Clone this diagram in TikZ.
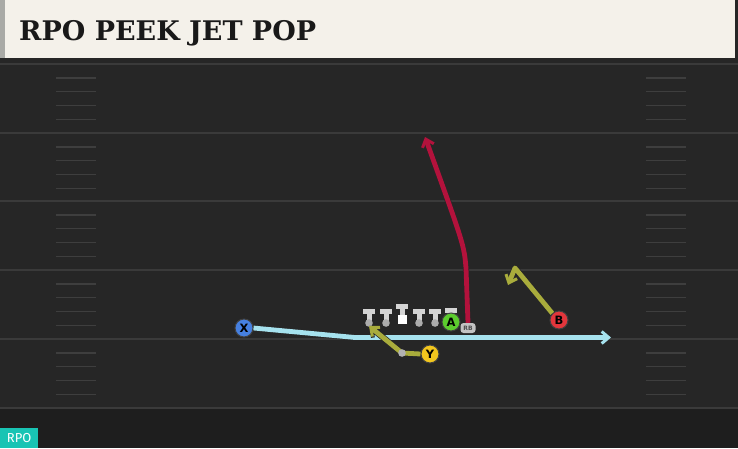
\documentclass[tikz,border=0pt]{standalone}
\usepackage{fontspec}
\setmainfont{DejaVu Sans}
\newfontfamily\titlefont{DejaVu Serif}
\newfontfamily\badgefont{Fira Sans}
\usetikzlibrary{arrows.meta}
\definecolor{fieldbg}{HTML}{262626}
\definecolor{fieldlow}{HTML}{1E1E1E}
\definecolor{yardline}{HTML}{3A3A3A}
\definecolor{hashc}{HTML}{3E3E3E}
\definecolor{headbg}{HTML}{F4F1EA}
\definecolor{headedge}{HTML}{A9AAA6}
\definecolor{teal}{HTML}{19C4B4}
\definecolor{motion}{HTML}{A6E2EE}
\definecolor{olive}{HTML}{A9AC3C}
\definecolor{crimson}{HTML}{B3123C}
\definecolor{xblue}{HTML}{4680E0}
\definecolor{ygold}{HTML}{F2C61E}
\definecolor{bred}{HTML}{E2363C}
\definecolor{agreen}{HTML}{5CCB2E}
\definecolor{linegray}{HTML}{D4D4D4}
\tikzset{
  x=1pt, y=-1pt,
  player/.style={circle, draw=black!75, line width=1pt, minimum size=18pt, inner sep=0pt, font=\bfseries\fontsize{11.5}{11.5}\selectfont, text=black},
  route/.style={line width=4.8pt, line join=round,
    preaction={draw=black!85, line width=6.2pt, -{Straight Barb[length=7.5pt,width=13pt,line width=3.8pt]}}},
  tip/.style={-{Straight Barb[length=7pt,width=12pt,line width=3pt]}},
  hashm/.style={draw=hashc, line width=1.4pt},
  yard/.style={draw=yardline, line width=1.5pt}
}
\begin{document}
\begin{tikzpicture}
\useasboundingbox (0,0) rectangle (738,448);
% field
\fill[fieldbg] (0,0) rectangle (738,448);
\fill[fieldlow] (0,408) rectangle (738,448);
% yard lines
\foreach \yy in {64,133,201,270,339,408} {\draw[yard] (0,\yy) -- (738,\yy);}
% hash marks
\foreach \yy in {64,133,201,270,339} {
  \foreach \k in {1,2,3,4} {
    \draw[hashm] (56,\yy+\k*13.8) -- (96,\yy+\k*13.8);
    \draw[hashm] (646,\yy+\k*13.8) -- (686,\yy+\k*13.8);
  }
}
% header
\fill[black!85] (0,56) rectangle (738,62);
\fill[headbg] (0,0) rectangle (735,58);
\fill[headedge] (0,0) rectangle (5,58);
\node[anchor=west, inner sep=0pt, font=\titlefont\bfseries\fontsize{27}{27}\selectfont, text=black!90] (title) at (19,33) {RPO PEEK JET POP};
% badge
\node[anchor=south west, fill=teal, text=white, inner sep=0pt, minimum width=38pt, minimum height=20pt, font=\badgefont\fontsize{13}{13}\selectfont] (badge) at (0,448) {RPO};

% offensive line T shapes
\foreach \xx/\nm in {369/l1,386/l2,419/l4,435/l5} {
  \fill[linegray] (\xx-6,308.5) rectangle (\xx+6,313.5);
  \fill[linegray] (\xx-2.5,313) rectangle (\xx+2.5,322);
  \fill[gray!65] (\xx,323) circle (3.8);
  \coordinate (\nm) at (\xx,323);
}
% center
\fill[linegray] (396,303.5) rectangle (408,308.5);
\fill[linegray] (399.5,308) rectangle (404.5,316);
\fill[white] (397.5,315) rectangle (406.5,324);
% tackle above A
\fill[linegray] (445,307.5) rectangle (457,312.5);
\fill[linegray] (448.5,312) rectangle (453.5,316);

% routes
\coordinate (ybend) at (402,353);
\coordinate (yend) at (369,326);
\coordinate (xbend) at (355,337.5);
\coordinate (xend) at (611,337.5);
\coordinate (bbend) at (515,268);
\coordinate (bend) at (508,285);
\coordinate (rbbend) at (466,268);
\coordinate (rbend) at (425,137);

\node[fill=linegray!80!gray, rounded corners=3pt, inner sep=0pt, minimum width=15pt, minimum height=10pt, font=\bfseries\fontsize{6}{6}\selectfont, text=black!70] (rb) at (468,328) {RB};

\draw[route, crimson, tip] (rb.north) -- (rbbend) .. controls (464,245) .. (rbend);

\node[player, fill=xblue] (X) at (244,328) {X};
\draw[route, motion, tip] (X.east) -- (xbend) -- (xend);

\node[player, fill=ygold] (Y) at (430,354) {Y};
\draw[route, olive, tip] (Y.west) -- (ybend) -- (yend);
\fill[gray!60] (ybend) circle (3.8);

\node[player, fill=bred] (B) at (559,320) {B};
\draw[route, olive, tip] (B.north west) -- (bbend) -- (bend);

\node[player, fill=agreen] (A) at (451,322) {A};
\end{tikzpicture}
\end{document}
